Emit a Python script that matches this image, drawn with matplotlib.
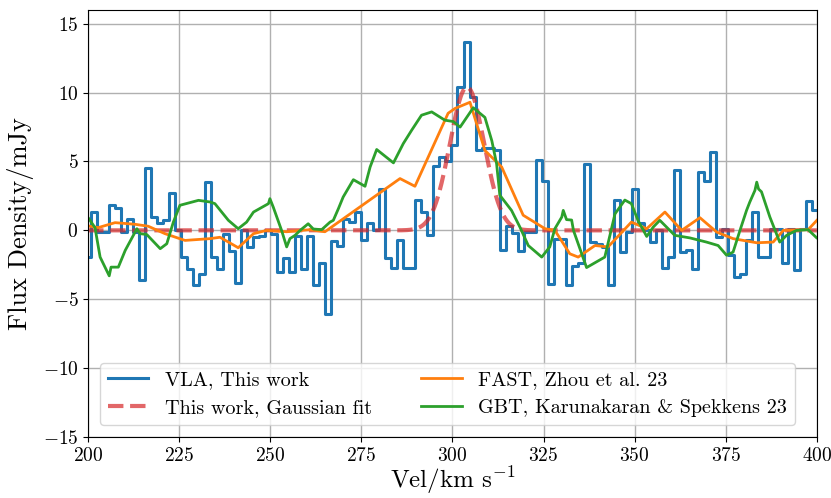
import numpy as np
import matplotlib
matplotlib.use('Agg')
import matplotlib.pyplot as plt

plt.rcParams['font.family'] = ['cmr10', 'DejaVu Serif']
plt.rcParams['mathtext.fontset'] = 'cm'
plt.rcParams['axes.formatter.use_mathtext'] = True

# VLA spectrum, channel width ~1.65 km/s starting at 199.9 km/s
vla_start = 199.9
vla_dv = 1.65
vla_flux = [
  -1.9, 1.3, -0.1, -0.1, 1.85, 1.65, -0.1, 0.85, -0.1, -3.6,
  4.5, 1.0, 0.55, 0.75, 2.7, 0.0, -1.9, -2.8, -4.0, -3.2,
  3.5, -1.9, -2.8, -0.3, -1.5, -3.8, 0.0, -1.2, -0.5, -0.4,
  0.0, -0.3, -3.0, -2.0, -3.0, -0.4, -2.8, -0.4, -4.0, -2.4,
  -6.05, -0.75, -1.1, 0.85, 0.6, 1.35, -0.7, 0.55, 0.0, 3.0,
  -2.0, -2.7, -0.7, -2.7, -2.7, 2.2, 1.3, -0.35, 4.7, 5.3,
  5.0, 6.2, 10.4, 13.7, 9.7, 5.8, 6.0, 6.0, 5.8, -1.45,
  0.35, -0.2, -1.5, -0.1, -0.1, 5.1, 3.6, -3.9, -0.6, -0.6,
  -4.0, -2.6, -2.4, 4.85, -0.85, -1.0, -1.2, -4.0, 2.2, -1.6,
  -0.1, 3.0, 0.5, 0.0, -0.85, 0.0, -2.7, -1.9, 4.35, -1.6,
  -1.45, -2.8, 4.25, 3.6, 5.7, -0.5, 0.1, -1.8, -3.4, -3.15,
  -0.7, 1.35, -1.9, -1.9, 0.1, 0.1, -2.4, 0.1, -2.9, 0.1,
  2.1, 1.45,
]

# Gaussian fit parameters
fit_amp = 10.4
fit_center = 304.0
fit_sigma = 4.7

# FAST (Zhou et al. 23)
fast_vel = [200.5, 202.8, 207.4, 212.9, 216.5, 221.1, 226.6, 233.5, 236.2, 241.2,
            245.4, 249.0, 254.5, 260.9, 265.0, 285.6, 289.7, 298.8, 300.7, 304.8,
            308.9, 313.5, 319.4, 325.4, 328.1, 332.2, 334.5, 339.1, 342.7, 349.1,
            353.3, 358.3, 362.9, 367.9, 372.5, 377.0, 383.5, 388.0, 390.8, 397.6,
            400.0]
fast_flux = [0.3, 0.2, 0.56, 0.44, 0.3, -0.24, -0.73, -0.6, -0.5, -1.26,
             -0.24, 0.0, -0.1, 0.05, -0.1, 3.76, 3.2, 8.5, 8.85, 9.3,
             5.8, 4.6, 1.1, 0.12, 0.0, -1.7, -1.94, -1.1, -1.2, 0.6,
             0.12, 1.33, 0.0, 0.92, -0.12, -0.6, -0.9, -0.85, 0.0, 0.05,
             0.73]

# GBT (Karunakaran & Spekkens 23)
gbt_vel = [200.2, 201.9, 203.3, 205.8, 206.3, 208.3, 210.2, 213.4, 214.3, 216.1,
           219.8, 221.6, 223.4, 225.2, 230.3, 233.5, 234.8, 238.5, 241.2, 243.5,
           245.4, 249.5, 249.9, 250.8, 253.1, 254.5, 255.4, 256.8, 258.2, 260.4,
           261.8, 264.1, 266.4, 267.3, 268.7, 270.0, 272.8, 276.0, 277.4, 279.2,
           283.8, 286.5, 288.8, 291.5, 294.3, 297.9, 300.2, 302.1, 305.7, 308.9,
           310.8, 312.1, 313.0, 316.2, 318.5, 320.8, 324.5, 326.7, 328.1, 330.0,
           330.4, 331.3, 332.7, 333.2, 336.8, 341.8, 344.6, 347.3, 349.1, 350.9,
           353.3, 355.1, 356.9, 361.0, 365.2, 369.7, 372.9, 375.2, 377.0, 378.9,
           380.7, 381.6, 383.0, 383.5, 384.0, 384.8, 387.1, 389.8, 391.7, 394.4,
           397.6, 399.9]
gbt_flux = [0.85, 0.2, -1.94, -3.3, -2.67, -2.67, -1.45, 0.12, -0.24, -0.3,
            -1.33, -0.97, 0.6, 1.82, 2.18, 2.06, 1.94, 0.73, 0.12, 0.6,
            1.33, 1.94, 2.3, 1.7, 0.0, -1.2, -0.6, -0.36, 0.0, 0.48,
            0.1, 0.05, 0.6, 0.73, 1.58, 2.42, 3.68, 3.2, 4.6, 5.87,
            4.9, 6.3, 7.27, 8.36, 8.6, 8.0, 7.9, 7.5, 8.9, 8.2,
            6.5, 4.85, 2.55, 1.45, 0.24, -1.1, -1.94, -1.2, 0.12, 0.97,
            1.45, 0.78, 0.75, 0.0, -2.7, -1.94, 1.2, 2.2, 1.94, 0.73,
            -0.44, 0.24, 0.73, -0.36, -0.55, -0.85, -1.1, -1.8, -1.58, 0.0,
            1.45, 2.06, 2.9, 3.5, 3.0, 2.8, 0.97, -0.85, -0.36, 0.0,
            0.05, -0.53]

vla_vel = vla_start + vla_dv * np.arange(len(vla_flux))
fit_vel = np.linspace(200, 400, 801)
fit_flux = fit_amp * np.exp(-0.5 * ((fit_vel - fit_center) / fit_sigma) ** 2)

fig = plt.figure(figsize=(8.31, 4.98), dpi=100)
ax = fig.add_axes([0.106, 0.1225, 0.877, 0.8575])

ax.step(vla_vel, vla_flux, where='mid', color='#1f77b4', lw=2.2, label='VLA, This work')
ax.plot(fit_vel, fit_flux, color='#d62728', ls='--', lw=3, alpha=0.7, label='This work, Gaussian fit')
ax.plot(fast_vel, fast_flux, color='#ff7f0e', lw=2, label='FAST, Zhou et al. 23')
ax.plot(gbt_vel, gbt_flux, color='#2ca02c', lw=2, label='GBT, Karunakaran & Spekkens 23')

ax.set_xlim(200, 400)
ax.set_ylim(-15, 16)
ax.set_xticks([200, 225, 250, 275, 300, 325, 350, 375, 400])
ax.set_yticks([-15, -10, -5, 0, 5, 10, 15])
ax.tick_params(labelsize=14)
ax.grid(True, color='#b0b0b0', lw=1)
ax.set_axisbelow(True)

ax.set_xlabel(r'Vel/km s$^{-1}$', fontsize=18, labelpad=0)
ax.set_ylabel('Flux Density/mJy', fontsize=19, labelpad=6)

ax.legend(ncol=2, fontsize=14.5, loc='lower left', mode='expand', borderaxespad=0,
          bbox_to_anchor=(0.0165, 0.028, 0.953, 0.2))

fig.savefig('out.png', dpi=100)
